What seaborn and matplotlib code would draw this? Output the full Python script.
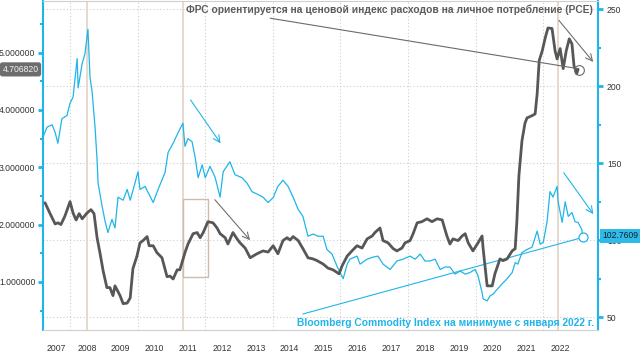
import matplotlib
matplotlib.use("Agg")
import matplotlib.pyplot as plt
import matplotlib.transforms as mtransforms
from matplotlib.patches import Rectangle
from matplotlib.ticker import FormatStrFormatter
import pandas as pd
import seaborn as sns

# ---------------- data ----------------
bcom_year = [2007.20, 2007.32, 2007.47, 2007.56, 2007.64, 2007.76, 2007.91, 2008.00, 2008.09, 2008.21,
             2008.24, 2008.36, 2008.44, 2008.53, 2008.59, 2008.65, 2008.74, 2008.80, 2008.83, 2008.95,
             2009.04, 2009.12, 2009.24, 2009.33, 2009.42, 2009.57, 2009.69, 2009.78, 2009.92, 2010.01,
             2010.07, 2010.22, 2010.31, 2010.46, 2010.57, 2010.66, 2010.81, 2010.90, 2011.05, 2011.20,
             2011.34, 2011.40, 2011.49, 2011.61, 2011.70, 2011.79, 2011.91, 2012.00, 2012.14, 2012.29,
             2012.44, 2012.53, 2012.73, 2012.88, 2013.09, 2013.24, 2013.38, 2013.56, 2013.71, 2013.86,
             2014.01, 2014.15, 2014.30, 2014.45, 2014.60, 2014.75, 2014.89, 2015.04, 2015.19, 2015.34,
             2015.49, 2015.60, 2015.75, 2015.90, 2015.99, 2016.08, 2016.20, 2016.28, 2016.49, 2016.58,
             2016.79, 2016.96, 2017.11, 2017.26, 2017.47, 2017.67, 2017.85, 2018.06, 2018.21, 2018.36,
             2018.50, 2018.65, 2018.80, 2018.95, 2019.09, 2019.24, 2019.39, 2019.54, 2019.69, 2019.83,
             2019.98, 2020.07, 2020.19, 2020.22, 2020.34, 2020.43, 2020.52, 2020.63, 2020.78, 2020.93,
             2021.08, 2021.17, 2021.25, 2021.37, 2021.52, 2021.67, 2021.82, 2021.91, 2022.00, 2022.11,
             2022.20, 2022.29, 2022.41, 2022.44, 2022.56, 2022.65, 2022.74, 2022.85, 2022.94, 2023.03,
             2023.14, 2023.17]
bcom_value = [167, 173.5, 175, 170, 163, 179, 181, 189, 193, 218,
              199, 215, 221, 237, 206, 197, 173.5, 152, 137, 122,
              112, 105, 113.5, 108, 128, 126, 133, 126, 137, 144.5,
              133, 135, 131, 124.5, 131, 136, 144, 157, 163, 170,
              176, 161, 166, 164, 154, 140.6, 149, 140.6, 148, 141,
              128, 144.5, 151, 142.6, 140.6, 137, 131.6, 129.7, 128, 124.5,
              127.7, 135, 139, 135, 128, 120, 115.5, 102.6, 104, 102.6,
              102.6, 94, 91, 83, 79, 75, 84.5, 87.7, 89.7, 84.5,
              87.7, 89, 89.7, 84.5, 81, 86.5, 87.7, 89.7, 87.7, 91,
              86.5, 86.5, 87.7, 81, 82.6, 82.6, 78, 80, 78, 79,
              81, 77, 66, 62, 60.6, 64, 65, 68, 71.6, 75,
              79, 85.5, 84.5, 92, 94, 95.5, 106, 97.4, 98.7, 111.6,
              131.6, 128, 135, 125, 111.6, 125, 115.5, 118, 112, 111.6,
              107, 102.76]

pce_year = [2007.26, 2007.41, 2007.56, 2007.64, 2007.73, 2007.85, 2008.00, 2008.09, 2008.18, 2008.27,
            2008.36, 2008.50, 2008.62, 2008.71, 2008.80, 2008.89, 2008.98, 2009.09, 2009.18, 2009.27,
            2009.33, 2009.48, 2009.57, 2009.69, 2009.78, 2009.86, 2009.98, 2010.07, 2010.16, 2010.28,
            2010.34, 2010.46, 2010.57, 2010.72, 2010.87, 2010.96, 2011.05, 2011.17, 2011.25, 2011.40,
            2011.49, 2011.64, 2011.76, 2011.85, 2011.94, 2012.08, 2012.23, 2012.35, 2012.44, 2012.59,
            2012.67, 2012.82, 2012.94, 2013.03, 2013.18, 2013.33, 2013.53, 2013.71, 2013.86, 2014.01,
            2014.15, 2014.30, 2014.42, 2014.51, 2014.60, 2014.75, 2014.89, 2015.04, 2015.19, 2015.31,
            2015.49, 2015.63, 2015.78, 2015.96, 2016.05, 2016.20, 2016.34, 2016.49, 2016.64, 2016.79,
            2016.94, 2017.02, 2017.17, 2017.26, 2017.41, 2017.56, 2017.67, 2017.82, 2017.91, 2018.06,
            2018.15, 2018.27, 2018.41, 2018.56, 2018.71, 2018.86, 2019.01, 2019.15, 2019.24, 2019.33,
            2019.48, 2019.60, 2019.69, 2019.78, 2019.92, 2020.07, 2020.19, 2020.22, 2020.34, 2020.49,
            2020.57, 2020.72, 2020.81, 2020.93, 2021.08, 2021.17, 2021.22, 2021.28, 2021.37, 2021.46,
            2021.52, 2021.67, 2021.76, 2021.82, 2021.88, 2021.97, 2022.06, 2022.14, 2022.26, 2022.35,
            2022.41, 2022.50, 2022.59, 2022.68, 2022.77, 2022.85, 2022.91, 2022.99, 2023.03]
pce_value = [2.38, 2.19, 2.01, 2.03, 2.00, 2.15, 2.40, 2.20, 2.08, 2.19,
             2.10, 2.20, 2.26, 2.19, 1.77, 1.49, 1.19, 0.90, 0.90, 0.76,
             0.93, 0.76, 0.62, 0.63, 0.72, 1.23, 1.45, 1.68, 1.72, 1.79,
             1.63, 1.63, 1.51, 1.42, 1.09, 1.10, 1.05, 1.21, 1.21, 1.51,
             1.66, 1.84, 1.86, 1.77, 1.86, 2.05, 2.03, 1.94, 1.84, 1.77,
             1.66, 1.86, 1.75, 1.68, 1.59, 1.42, 1.49, 1.54, 1.52, 1.63,
             1.49, 1.72, 1.77, 1.73, 1.79, 1.72, 1.58, 1.42, 1.40, 1.37,
             1.31, 1.24, 1.21, 1.14, 1.28, 1.45, 1.54, 1.63, 1.59, 1.75,
             1.80, 1.86, 1.94, 1.72, 1.68, 1.58, 1.54, 1.59, 1.68, 1.72,
             1.84, 2.03, 2.05, 2.10, 2.05, 2.10, 2.08, 1.80, 1.66, 1.75,
             1.72, 1.80, 1.84, 1.68, 1.54, 1.68, 1.80, 1.59, 0.93, 0.93,
             1.14, 1.40, 1.37, 1.40, 1.54, 1.58, 2.06, 2.85, 3.46, 3.77,
             3.86, 3.90, 3.93, 4.28, 4.86, 5.03, 5.26, 5.43, 5.42, 5.03,
             4.89, 5.07, 4.72, 5.03, 5.24, 5.15, 4.77, 4.63, 4.71]

year_starts = list(range(2008, 2024))
year_label_pos = [2007.6] + [y + 0.5 for y in range(2008, 2023)]
year_labels = [str(y) for y in range(2007, 2023)]
left_ticks = [1, 2, 3, 4, 5]
left_minor = [0.5, 1.5, 2.5, 3.5, 4.5, 5.5]
right_ticks = [50, 100, 150, 200, 250]
right_minor = [75, 125, 175, 225]
event_lines = [2008.50, 2011.33, 2022.45]
last_pce_label = "4.706820"
last_bcom_label = "102.7609"
title_text = "ФРС ориентируется на ценовой индекс расходов на личное потребление (PCE)"
bcom_text = "Bloomberg Commodity Index на минимуме с января 2022 г."

bcom_df = pd.DataFrame({"year": bcom_year, "value": bcom_value})
pce_df = pd.DataFrame({"year": pce_year, "value": pce_value})

# ---------------- style ----------------
sns.set_style("white")
plt.rcParams["font.family"] = ["Liberation Sans", "DejaVu Sans"]

CYAN = "#1fb5e9"
GRAY = "#575757"
GRID = "#cdcdcd"
TAN = "#e4d6c8"

fig = plt.figure(figsize=(6.4, 3.52), dpi=100)
ax = fig.add_axes([43 / 640, 22 / 352, 555 / 640, 329 / 352])
ax2 = ax.twinx()
ax.set_zorder(2)
ax2.set_zorder(1)
ax.patch.set_visible(False)

# lines
sns.lineplot(data=bcom_df, x="year", y="value", ax=ax2, color=CYAN,
             linewidth=0.9, estimator=None, zorder=3)
sns.lineplot(data=pce_df, x="year", y="value", ax=ax, color=GRAY,
             linewidth=2.0, estimator=None, zorder=3)

ax.set_xlim(2007.20, 2023.62)
ax.set_ylim(0.16, 5.90)
ax2.set_ylim(41.7, 255.4)
for a in (ax, ax2):
    a.set_xlabel("")
    a.set_ylabel("")

# grid
ax2.set_yticks(right_ticks)
ax2.set_yticks(right_minor, minor=True)
ax2.yaxis.grid(True, which="major", linestyle=(0, (1, 2)), color=GRID, linewidth=0.8)
for yr in range(2008, 2024, 2):
    ax2.axvline(yr, linestyle=(0, (1, 2)), color=GRID, linewidth=0.8, zorder=0)
for ev in event_lines:
    ax2.axvline(ev, color=TAN, linewidth=1.3, zorder=1)

# x axis: year separators + centred labels
ax.set_xticks(year_starts)
ax.set_xticklabels([])
ax.set_xticks(year_label_pos, minor=True)
ax.set_xticklabels(year_labels, minor=True)
ax.tick_params(axis="x", which="major", direction="out", length=16, width=0.8, color="#d3d3d3")
ax.tick_params(axis="x", which="minor", length=0, pad=10, labelsize=6.2, labelcolor="#333333")

# left axis
ax.set_yticks(left_ticks)
ax.set_yticks(left_minor, minor=True)
ax.yaxis.set_major_formatter(FormatStrFormatter("%.6f"))
ax.tick_params(axis="y", which="major", direction="out", length=3.5, width=2,
               color=CYAN, labelsize=6.2, labelcolor="#333333", pad=2)
ax.tick_params(axis="y", which="minor", direction="out", length=2.5, width=1.5, color=CYAN)

# right axis
ax2.tick_params(axis="y", which="major", direction="out", length=3.5, width=2,
                color=CYAN, labelsize=6.2, labelcolor="#333333", pad=3)
ax2.tick_params(axis="y", which="minor", direction="out", length=2.5, width=1.5, color=CYAN)

# spines
ax.spines["left"].set_color(CYAN)
ax.spines["left"].set_linewidth(1.5)
ax.spines["right"].set_visible(False)
for s in ("top", "bottom"):
    ax.spines[s].set_color("#cfcfcf")
    ax.spines[s].set_linewidth(0.8)
ax2.spines["right"].set_color(CYAN)
ax2.spines["right"].set_linewidth(1.5)
for s in ("left", "top", "bottom"):
    ax2.spines[s].set_visible(False)

# rectangle highlight
ax.add_patch(Rectangle((2011.34, 1.08), 0.74, 1.36, fill=False,
                       edgecolor="#cdbca9", linewidth=1, zorder=2))

# gray annotations (left axis)
ax.plot([2013.92, 2023.03], [5.60, 4.72], color="#6a6a6a", linewidth=0.8, zorder=4)
ax.plot([2023.06], [4.70], marker="o", markersize=7, markerfacecolor="none",
        markeredgecolor="#6a6a6a", markeredgewidth=0.8, zorder=5)
arrow_gray = dict(arrowstyle="->", color="#707070", linewidth=0.8, mutation_scale=12)
ax.annotate("", xy=(2023.53, 4.80), xytext=(2022.41, 5.60), arrowprops=arrow_gray)
ax.annotate("", xy=(2013.38, 1.69), xytext=(2012.23, 2.47), arrowprops=arrow_gray)

# cyan annotations (right axis)
arrow_cyan = dict(arrowstyle="->", color=CYAN, linewidth=0.8, mutation_scale=12)
ax2.annotate("", xy=(2012.50, 161.5), xytext=(2011.52, 192.6), arrowprops=arrow_cyan)
ax2.annotate("", xy=(2023.53, 115.5), xytext=(2022.56, 145.3), arrowprops=arrow_cyan)
ax2.plot([2014.89, 2023.18], [52.1, 101.9], color=CYAN, linewidth=0.8, zorder=4)
ax2.plot([2023.18], [101.9], marker="o", markersize=6.5, markerfacecolor="white",
         markeredgecolor=CYAN, markeredgewidth=0.9, zorder=5)

# texts
fig.text(186 / 640, 1 - 10 / 352, title_text, ha="left", va="center",
         fontsize=7.35, fontweight="bold", color="#5c5c5c")
fig.text(297 / 640, 1 - 323 / 352, bcom_text, ha="left", va="center",
         fontsize=7.35, fontweight="bold", color=CYAN)

# last-value labels
tl = mtransforms.blended_transform_factory(ax.transAxes, ax.transData)
ax.text(-0.008, 4.7068, last_pce_label, transform=tl, ha="right", va="center",
        fontsize=6.2, color="#f4f4f4", zorder=10, clip_on=False,
        bbox=dict(boxstyle="round,pad=0.3,rounding_size=0.3", facecolor="#6d6d6d", edgecolor="none"))
tr = mtransforms.blended_transform_factory(ax2.transAxes, ax2.transData)
ax2.text(1.008, 102.76, last_bcom_label, transform=tr, ha="left", va="center",
         fontsize=6.2, color="#10202a", zorder=10, clip_on=False,
         bbox=dict(boxstyle="square,pad=0.3", facecolor="#2ebbe9", edgecolor="none"))

fig.savefig("out.png", dpi=100, facecolor="white")
